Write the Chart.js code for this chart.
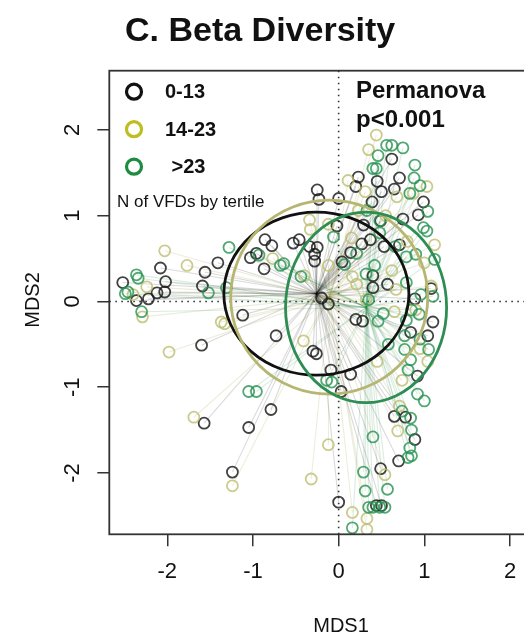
<!DOCTYPE html>
<html>
<head>
<meta charset="utf-8">
<script src="https://cdn.jsdelivr.net/npm/chart.js@4.4.1/dist/chart.umd.min.js"></script>
<style>
  html, body { margin: 0; padding: 0; background: #fff; overflow: hidden; }
  #wrap { width: 524px; height: 640px; overflow: hidden; }
</style>
</head>
<body>
<div id="wrap"><canvas id="c" width="600" height="640"></canvas></div>
<script>
// NMDS scores by tertile of VFD count
const groupLabels = ['0-13', '14-23', '>23'];

const lowPts = [
  [-2.52, 0.22], [-2.08, 0.39], [-2.02, 0.23], [-2.12, 0.10], [-2.03, 0.11], [-2.22, 0.03], [-2.36, 0.01],
  [-1.56, 0.34], [-1.41, 0.45], [-1.59, 0.18], [-1.12, -0.16], [-1.60, -0.51], [-0.73, -0.40],
  [-1.57, -1.42], [-1.05, -1.47], [-0.79, -1.26], [-1.24, -1.99],
  [-1.03, 0.51], [-0.96, 0.56], [-0.86, 0.72], [-0.78, 0.65], [-0.87, 0.38], [-0.53, 0.68], [-0.46, 0.72],
  [-0.34, 0.64], [-0.25, 0.63], [-0.28, 0.55], [-0.28, 0.47], [-0.25, 1.30], [-0.23, 1.19], [-0.12, -0.03],
  [-0.20, 0.04], [-0.30, -0.58], [-0.26, -0.61],
  [0.00, 1.20], [-0.02, 0.88], [0.04, 0.46], [0.14, 0.57], [-0.09, -0.80], [0.03, -1.05], [0.14, -0.85],
  [0.00, -2.34], [0.20, -0.21], [0.28, -0.23],
  [0.23, 1.45], [0.20, 1.34], [0.29, 0.89], [0.27, 0.67], [0.37, 0.72], [0.39, 1.16], [0.40, 0.30], [0.40, 0.16],
  [0.45, 1.40], [0.50, 1.28], [0.53, 0.64], [0.49, 0.94], [0.62, 1.66], [0.71, 1.44], [0.65, 1.31], [0.75, 0.96],
  [0.71, 0.66], [0.93, 1.01], [0.99, 1.16], [0.57, 0.20], [0.89, 0.03], [1.08, 0.15], [1.10, -0.24], [1.04, -0.40],
  [0.84, -0.36], [0.92, -0.87], [0.65, -1.34], [0.78, -1.35], [0.89, -1.61], [0.70, -1.86], [0.49, -1.95],
  [0.44, -2.38], [0.50, -2.38]
];

const midPts = [
  [-2.24, 0.17], [-2.29, -0.18], [-1.77, 0.42], [-2.03, 0.59], [-1.37, -0.24], [-2.40, 0.08],
  [-1.98, -0.59], [-1.69, -1.35], [-1.24, -2.15], [-1.33, -0.26], [-0.77, 0.50],
  [-0.34, 0.95], [-0.33, 0.84], [-0.41, -0.46], [-0.12, 0.42], [-0.12, -1.67], [-0.32, -2.07],
  [0.11, 1.41], [0.35, 1.77], [0.44, 1.94], [0.31, 1.28], [0.23, 1.06], [0.15, 0.74], [0.21, 0.20],
  [0.32, 0.02], [0.62, 0.36], [0.67, 0.14], [0.65, -0.12], [0.74, -0.92], [0.71, -1.22], [0.69, -1.51],
  [1.03, 1.34], [1.12, 0.66], [1.08, 0.18], [1.04, -0.70], [0.16, -2.46], [0.33, -2.53], [0.33, -2.66],
  [0.54, -2.02], [-0.12, 0.90], [0.16, 0.29], [0.68, 1.22], [0.87, 1.26], [0.55, 1.00], [0.80, 0.70],
  [1.00, 0.45], [0.90, -0.10], [0.95, -0.55], [0.45, -0.70], [-0.40, 0.30]
];

const highPts = [
  [-2.36, 0.31], [-2.34, 0.27], [-2.46, 0.11], [-2.49, 0.09], [-2.30, -0.12], [-1.52, 0.10], [-1.31, 0.16],
  [-1.28, 0.63], [-0.93, 0.54], [-0.68, 0.42], [-0.64, 0.44], [-0.44, 0.29], [-1.05, -1.05], [-0.96, -1.05],
  [-0.14, -0.92], [-0.06, 0.75], [0.07, 0.43],
  [0.40, -1.58], [0.29, -1.99], [0.31, -2.21], [0.57, -2.19], [0.35, -2.40], [0.40, -2.40], [0.48, -2.40],
  [0.54, -2.40], [0.16, -2.64],
  [0.32, 0.32], [0.42, 0.42], [0.46, -0.23], [0.35, 0.02], [0.48, 0.80], [0.56, 1.82], [0.62, 1.82],
  [0.75, 1.79], [0.46, 1.70], [0.40, 1.55], [0.44, 1.55], [0.89, 1.59], [0.88, 1.44], [0.95, 1.35],
  [0.83, 1.26], [1.04, 1.05], [0.99, 0.86], [1.03, 0.82], [0.90, 0.55], [1.12, 0.49], [0.79, 0.52],
  [0.79, 0.22], [0.96, 0.08], [1.10, 0.06], [0.85, -0.10], [0.79, -0.22], [0.94, -0.15], [0.77, -0.40],
  [0.95, -0.44], [1.05, -0.56], [0.77, -0.56], [0.84, -0.68], [0.81, -0.80], [0.92, -1.08], [1.00, -1.16],
  [0.74, -1.28], [0.84, -1.36], [0.85, -1.50], [0.83, -1.71], [0.81, -1.82], [0.85, -1.80], [-0.08, -0.94],
  [0.52, -0.14], [0.58, -0.50], [0.33, 1.06], [0.48, 0.94], [0.21, 0.56], [0.66, 0.64]
];

// group centroids (spider hubs / ellipse centres) and sd ellipse radii
const centroids = [[-0.26, 0.09], [-0.11, 0.05], [0.32, -0.07]];
const ellipseRadii = [[1.08, 0.95], [1.15, 1.13], [0.94, 1.11]];

const xTicks = [-2, -1, 0, 1, 2];
const yTicks = [-2, -1, 0, 1, 2];
const xRange = [-2.677, 2.677];
const yRange = [-2.715, 2.69];

const pointColors = ['rgba(25,25,25,0.82)', 'rgba(188,188,110,0.78)', 'rgba(38,146,80,0.8)'];
const spokeColors = ['rgba(0,0,0,0.15)', 'rgba(165,165,80,0.2)', 'rgba(40,140,80,0.17)'];
const ellipseColors = ['#111111', '#b6b672', '#2e8d52'];
const legendColors = ['#111111', '#bebe22', '#1e8c40'];

const FONT = '"Liberation Sans", Arial, Helvetica, sans-serif';
const groups = [lowPts, midPts, highPts];

// centroid -> point segments, broken by gaps so each spoke is stroked on its own
function spokes(pts, c) {
  const out = [];
  pts.forEach(([x, y]) => {
    out.push({ x: c[0], y: c[1] }, { x, y }, { x: c[0], y: null });
  });
  return out;
}

const datasets = [];
groups.forEach((pts, i) => {
  datasets.push({
    label: groupLabels[i],
    data: pts.map(([x, y]) => ({ x, y })),
    pointRadius: 5.5,
    pointBorderWidth: 1.8,
    pointBackgroundColor: 'rgba(0,0,0,0)',
    pointBorderColor: pointColors[i],
    order: 2 - i
  });
});
groups.forEach((pts, i) => {
  datasets.push({
    label: groupLabels[i] + ' spider',
    data: spokes(pts, centroids[i]),
    showLine: true,
    spanGaps: false,
    pointRadius: 0,
    borderWidth: 1.1,
    borderColor: spokeColors[i],
    segment: { borderColor: () => spokeColors[i] },
    order: 10 + i
  });
});

const decor = {
  id: 'decor',
  beforeDatasetsDraw(chart) {
    const { ctx, chartArea: a, scales: { x, y } } = chart;
    const x0 = x.getPixelForValue(0), y0 = y.getPixelForValue(0);
    ctx.save();
    ctx.strokeStyle = '#333';
    ctx.lineWidth = 1.6;
    ctx.setLineDash([1.6, 4.4]);
    ctx.beginPath();
    ctx.moveTo(x0, a.top); ctx.lineTo(x0, a.bottom);
    ctx.moveTo(a.left, y0); ctx.lineTo(a.right, y0);
    ctx.stroke();
    ctx.restore();
  },
  afterDatasetsDraw(chart) {
    const { ctx, scales: { x, y } } = chart;
    ctx.save();
    ctx.lineWidth = 2.8;
    centroids.forEach((c, i) => {
      const cx = x.getPixelForValue(c[0]), cy = y.getPixelForValue(c[1]);
      const rx = x.getPixelForValue(c[0] + ellipseRadii[i][0]) - cx;
      const ry = cy - y.getPixelForValue(c[1] + ellipseRadii[i][1]);
      ctx.strokeStyle = ellipseColors[i];
      ctx.beginPath();
      ctx.ellipse(cx, cy, rx, ry, 0, 0, Math.PI * 2);
      ctx.stroke();
    });
    ctx.restore();
  },
  afterDraw(chart) {
    const { ctx, chartArea: a, scales: { y } } = chart;
    ctx.save();
    // plot frame
    ctx.strokeStyle = '#333';
    ctx.lineWidth = 1.8;
    ctx.strokeRect(a.left, a.top, a.right - a.left, a.bottom - a.top);

    ctx.fillStyle = '#111';
    // rotated y tick labels
    ctx.font = '22px ' + FONT;
    ctx.textAlign = 'center';
    ctx.textBaseline = 'alphabetic';
    yTicks.forEach(v => {
      ctx.save();
      ctx.translate(79, y.getPixelForValue(v));
      ctx.rotate(-Math.PI / 2);
      ctx.fillText(String(v), 0, 0);
      ctx.restore();
    });

    // axis titles
    ctx.font = '20px ' + FONT;
    ctx.fillText('MDS1', 341, 632);
    ctx.save();
    ctx.translate(39, 300);
    ctx.rotate(-Math.PI / 2);
    ctx.fillText('MDS2', 0, 0);
    ctx.restore();

    // title
    ctx.textAlign = 'left';
    ctx.font = 'bold 34px ' + FONT;
    ctx.fillText('C. Beta Diversity', 125, 41);

    // test annotation
    ctx.font = 'bold 24px ' + FONT;
    ctx.fillText('Permanova', 356, 98);
    ctx.fillText('p<0.001', 356, 127);

    // legend
    const rows = [91.7, 129.2, 166.7];
    ctx.lineWidth = 3.2;
    ctx.textBaseline = 'middle';
    ctx.font = 'bold 20px ' + FONT;
    groupLabels.forEach((lab, i) => {
      ctx.strokeStyle = legendColors[i];
      ctx.beginPath();
      ctx.arc(134, rows[i], 7.5, 0, Math.PI * 2);
      ctx.stroke();
      ctx.fillStyle = '#111';
      ctx.fillText(lab, i === 2 ? 171.5 : 165, rows[i] + 1);
    });
    ctx.textBaseline = 'alphabetic';
    ctx.font = '17px ' + FONT;
    ctx.fillText('N of VFDs by tertile', 117, 206.5);
    ctx.restore();
  }
};

const tickGrid = {
  display: true,
  drawOnChartArea: false,
  drawTicks: true,
  tickLength: 12,
  color: '#333',
  lineWidth: 1.5
};

new Chart(document.getElementById('c'), {
  type: 'scatter',
  data: { datasets },
  options: {
    responsive: false,
    animation: false,
    devicePixelRatio: 1,
    layout: { padding: { left: 0, top: 70.7, right: 32, bottom: 0 } },
    plugins: { legend: { display: false }, tooltip: { enabled: false } },
    scales: {
      x: {
        type: 'linear',
        min: xRange[0],
        max: xRange[1],
        afterBuildTicks: s => { s.ticks = xTicks.map(v => ({ value: v })); },
        afterFit: s => { s.height = 105.7; },
        grid: tickGrid,
        border: { display: false },
        ticks: { color: '#111', font: { family: FONT, size: 22 }, padding: 12 }
      },
      y: {
        type: 'linear',
        min: yRange[0],
        max: yRange[1],
        afterBuildTicks: s => { s.ticks = yTicks.map(v => ({ value: v })); },
        afterFit: s => { s.width = 109.3; },
        grid: tickGrid,
        border: { display: false },
        ticks: { display: false }
      }
    }
  },
  plugins: [decor]
});
</script>
</body>
</html>
